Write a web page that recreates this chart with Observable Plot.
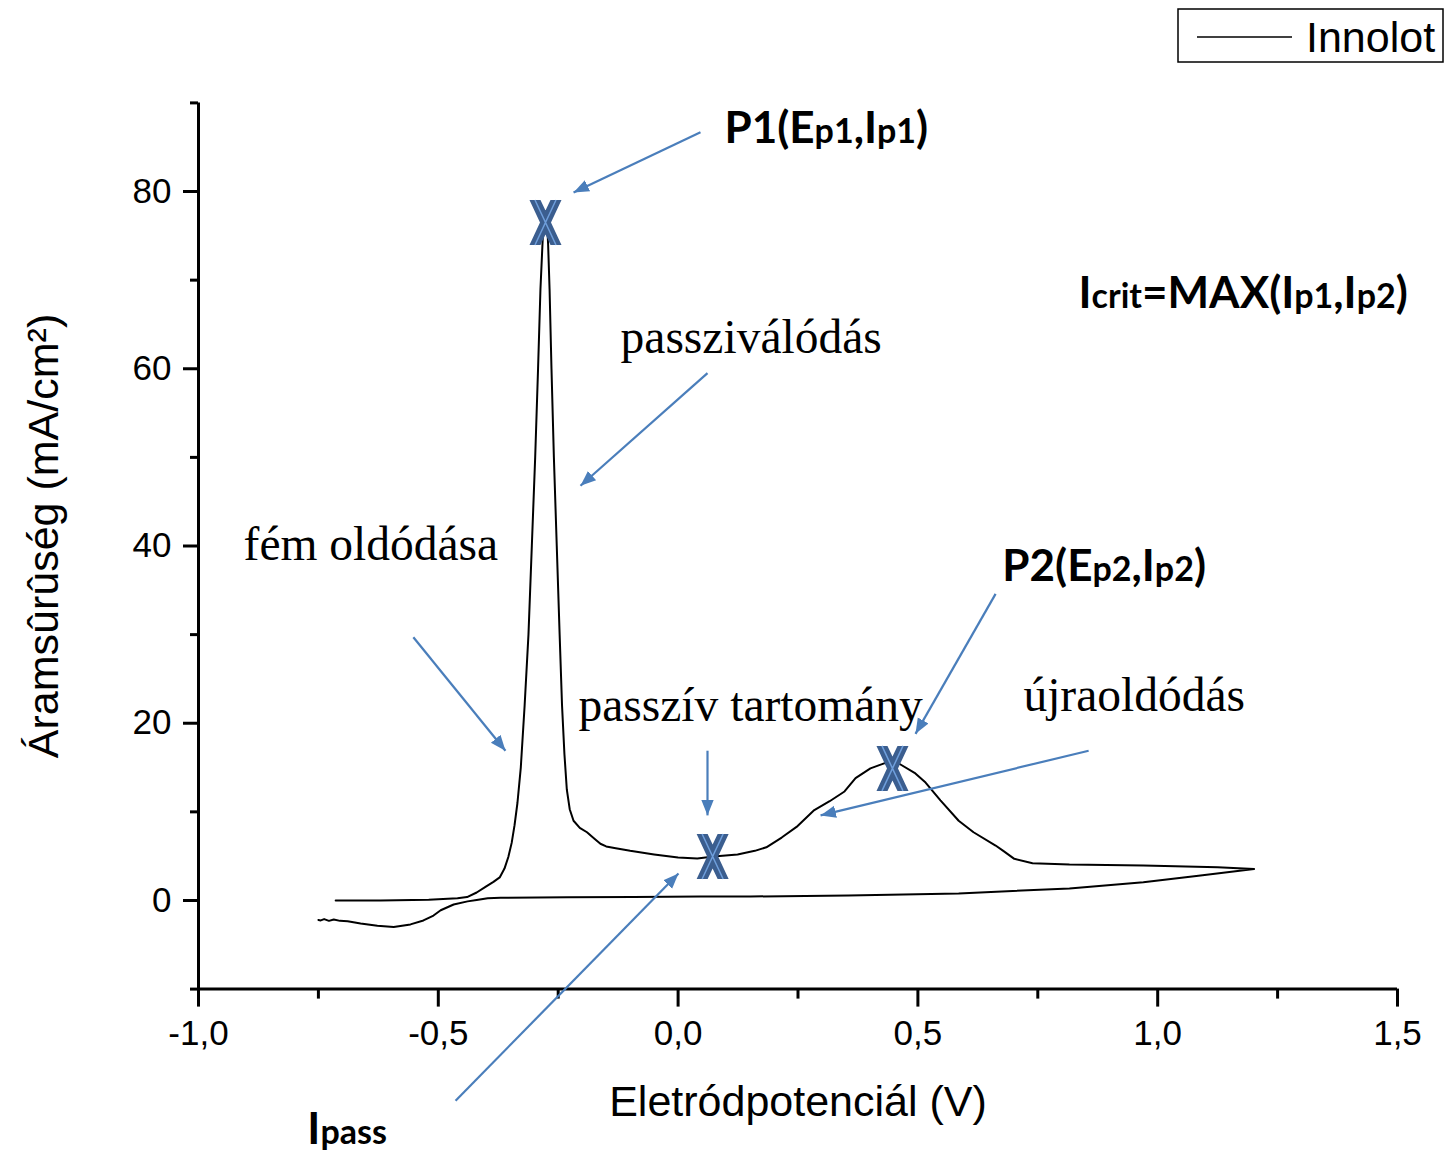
<!DOCTYPE html>
<html>
<head>
<meta charset="utf-8">
<script src="https://cdn.jsdelivr.net/npm/d3@7"></script>
<script src="https://cdn.jsdelivr.net/npm/@observablehq/plot@0.6"></script>
<style>
  html, body { margin: 0; padding: 0; background: #fff; overflow: hidden; }
  #wrap { position: relative; width: 1445px; height: 1153px; }
  #legend { position: absolute; left: 1177px; top: 8px; }
</style>
</head>
<body>
<div id="wrap">
  <div id="chart"></div>
  <svg id="legend" width="268" height="56">
    <rect x="1" y="1" width="265" height="53" fill="#fff" stroke="#000" stroke-width="1.5"></rect>
    <line x1="20" x2="115" y1="29" y2="29" stroke="#000" stroke-width="1.5"></line>
    <text x="129" y="44" font-family="'Liberation Sans', Arial, sans-serif" font-size="43" fill="#000">Innolot</text>
  </svg>
</div>
<script>
// ---- Data: cyclic polarisation scan (forward then reverse) ----
const scanE = [
  -0.714, -0.62, -0.52, -0.46, -0.44, -0.42, -0.40, -0.385, -0.372, -0.362,
  -0.354, -0.347, -0.341, -0.335, -0.328, -0.320, -0.312, -0.305, -0.298, -0.292,
  -0.287, -0.282, -0.278, -0.274, -0.271, -0.268, -0.264, -0.259, -0.253, -0.247,
  -0.242, -0.237, -0.232, -0.226, -0.218, -0.205, -0.190, -0.175, -0.162, -0.150,
  -0.130, -0.10, -0.05, 0.0, 0.04, 0.074, 0.124, 0.16, 0.184, 0.216,
  0.247, 0.284, 0.316, 0.347, 0.370, 0.401, 0.431, 0.462, 0.493, 0.516,
  0.547, 0.585, 0.616, 0.662, 0.678, 0.701, 0.739, 0.816, 0.970, 1.125,
  1.201,
  1.085, 0.970, 0.816, 0.585, 0.355, 0.151, 0.047, -0.093, -0.231, -0.370,
  -0.397, -0.420, -0.439, -0.468, -0.495, -0.510, -0.531, -0.558, -0.593, -0.627,
  -0.662, -0.689, -0.705, -0.718, -0.728, -0.738, -0.745, -0.750
];
const scanI = [
  0.0, 0.0, 0.08, 0.25, 0.38, 0.9, 1.6, 2.1, 2.6, 3.6,
  4.9, 6.5, 8.5, 11.0, 15.0, 22.0, 30.0, 40.0, 50.0, 60.0,
  69.0, 75.0, 77.8, 77.5, 74.0, 69.0, 60.0, 50.0, 40.0, 30.0,
  22.0, 16.5, 12.5, 10.3, 9.0, 8.2, 7.7, 7.0, 6.4, 6.1,
  5.9, 5.6, 5.2, 4.85, 4.75, 4.95, 5.2, 5.6, 6.0, 7.1,
  8.3, 10.2, 11.2, 12.3, 13.8, 14.9, 15.5, 15.4, 14.4, 13.3,
  11.3, 9.0, 7.7, 6.2, 5.6, 4.7, 4.2, 4.05, 3.95, 3.75,
  3.55,
  2.8, 2.05, 1.35, 0.8, 0.56, 0.45, 0.45, 0.38, 0.36, 0.3,
  0.25, 0.05, -0.1, -0.45, -1.1, -1.7, -2.25, -2.7, -3.0, -2.85,
  -2.6, -2.35, -2.3, -2.15, -2.3, -2.1, -2.25, -2.2
];

// Characteristic points (P1, Ipass, P2)
const markE = [-0.2765, 0.072, 0.447];
const markI = [76.5, 4.96, 14.9];

// Serif annotations
const noteText = ["passziválódás", "fém oldódása", "passzív tartomány", "újraoldódás"];
const noteE = [-0.120, -0.906, -0.2077, 0.720];
const noteI = [61.8, 38.4, 20.3, 21.4];

// Bold annotations ({...} = smaller part)
const boldText = ["P1(E{p1},I{p1})", "P2(E{p2},I{p2})", "I{crit}=MAX(I{p1},I{p2})", "I{pass}"];
const boldE = [0.0967, 0.676, 0.835, -0.773];
const boldI = [85.5, 36.1, 66.9, -27.5];

// Arrows (tail -> head)
const arrowE1 = [0.0467, 0.0613, -0.552, 0.0613, 0.662, 0.856, -0.464];
const arrowI1 = [86.7, 59.5, 29.7, 16.9, 34.6, 16.9, -22.6];
const arrowE2 = [-0.218, -0.2035, -0.360, 0.0613, 0.495, 0.297, 0.0008];
const arrowI2 = [79.9, 46.8, 16.9, 9.6, 18.8, 9.6, 3.05];

// Axis ticks
const xMajor = [-1.0, -0.5, 0.0, 0.5, 1.0, 1.5];
const xMinor = [-0.75, -0.25, 0.25, 0.75, 1.25];
const yMajor = [0, 20, 40, 60, 80];
const yMinor = [-10, 10, 30, 50, 70, 90];

const xLabel = "Eletródpotenciál (V)";
const yLabel = "Áramsûrûség (mA/cm²)";

// ---- Helpers ----
const scan = scanE.map((E, i) => ({E, I: scanI[i]}));
const marks = markE.map((E, i) => ({E, I: markI[i]}));
const notes = noteText.map((t, i) => ({t, E: noteE[i], I: noteI[i]}));
const bolds = boldText.map((t, i) => ({t, E: boldE[i], I: boldI[i]}));
const arrows = arrowE1.map((e, i) => ({x1: e, y1: arrowI1[i], x2: arrowE2[i], y2: arrowI2[i]}));

const xShape = {
  draw(ctx) {
    const w = 16, h = 22.5, c = 12, s = 5;
    ctx.moveTo(-w, -h); ctx.lineTo(-s, -h); ctx.lineTo(0, -c); ctx.lineTo(s, -h);
    ctx.lineTo(w, -h); ctx.lineTo(s + 0.5, 0); ctx.lineTo(w, h); ctx.lineTo(s, h);
    ctx.lineTo(0, c); ctx.lineTo(-s, h); ctx.lineTo(-w, h); ctx.lineTo(-s - 0.5, 0);
    ctx.closePath();
  }
};
const xInner = {
  draw(ctx) {
    ctx.moveTo(-10.5, -22.5); ctx.lineTo(10.5, 22.5);
    ctx.moveTo(10.5, -22.5); ctx.lineTo(-10.5, 22.5);
  }
};

function filledHead(color) {
  const ns = "http://www.w3.org/2000/svg";
  const m = document.createElementNS(ns, "marker");
  m.setAttribute("viewBox", "-8 -4 8 8");
  m.setAttribute("markerWidth", 7);
  m.setAttribute("markerHeight", 7);
  m.setAttribute("refX", 0);
  m.setAttribute("refY", 0);
  m.setAttribute("orient", "auto");
  const p = document.createElementNS(ns, "path");
  p.setAttribute("d", "M-8,-3.2L0,0L-8,3.2Z");
  p.setAttribute("fill", color);
  p.setAttribute("stroke", "none");
  m.appendChild(p);
  return m;
}

const fmtX = d => d.toFixed(1).replace(".", ",");
const sans = "'Liberation Sans', Arial, sans-serif";
const blue = "#4a7ebb";

const plot = Plot.plot({
  width: 1445,
  height: 1153,
  marginLeft: 198,
  marginRight: 48,
  marginTop: 102.4,
  marginBottom: 164.4,
  x: {domain: [-1, 1.5]},
  y: {domain: [-10, 90]},
  style: {fontFamily: sans, color: "#000", background: "#fff", overflow: "visible"},
  marks: [
    Plot.axisX({ticks: xMajor, tickSize: 18, tickPadding: 13, tickFormat: fmtX, fontSize: 35, strokeWidth: 3, label: null, fontFamily: sans}),
    Plot.axisX({ticks: xMinor, tickSize: 10, tickFormat: () => "", strokeWidth: 3, label: null}),
    Plot.axisY({ticks: yMajor, tickSize: 15, tickPadding: 12, tickFormat: d => String(d), fontSize: 35, strokeWidth: 3, label: null, fontFamily: sans}),
    Plot.axisY({ticks: yMinor, tickSize: 8, tickFormat: () => "", strokeWidth: 3, label: null}),
    Plot.ruleX([-1], {y1: -10, y2: 90, stroke: "#000", strokeWidth: 3}),
    Plot.ruleY([-10], {x1: -1, x2: 1.5, stroke: "#000", strokeWidth: 3}),
    Plot.line(scan, {x: "E", y: "I", stroke: "#000", strokeWidth: 2, strokeLinejoin: "round"}),
    Plot.dot(marks, {x: "E", y: "I", symbol: xShape, fill: "#3b5e8f", stroke: "none", r: 10}),
    Plot.dot(marks, {x: "E", y: "I", symbol: xInner, fill: "none", stroke: "#6f9fdc", strokeWidth: 1.5, r: 10}),
    Plot.link(arrows, {x1: "x1", y1: "y1", x2: "x2", y2: "y2", stroke: blue, strokeWidth: 2.2, markerEnd: filledHead}),
    Plot.text(notes, {x: "E", y: "I", text: "t", textAnchor: "start", lineAnchor: "bottom", fontFamily: "'Liberation Serif', 'Times New Roman', serif", fontSize: 47.5, fill: "#000"}),
    Plot.text(bolds, {x: "E", y: "I", text: "t", textAnchor: "start", lineAnchor: "bottom", fontFamily: "Lato, 'Open Sans', sans-serif", fontWeight: "bold", fontSize: 44, fill: "#000"}),
    Plot.text([xLabel], {frameAnchor: "bottom", dy: 126.4, lineAnchor: "bottom", fontSize: 43, fontFamily: sans, fill: "#000"}),
    Plot.text([yLabel], {frameAnchor: "left", rotate: -90, dx: -141, dy: -10, lineAnchor: "bottom", textAnchor: "middle", fontSize: 43, fontFamily: sans, fill: "#000"})
  ]
});

// Smaller sub-parts in bold labels
const ns = "http://www.w3.org/2000/svg";
plot.querySelectorAll("text").forEach(t => {
  const s = t.textContent;
  if (!s.includes("{")) return;
  t.textContent = "";
  s.split(/(\{[^}]*\})/).forEach(part => {
    if (!part) return;
    const ts = document.createElementNS(ns, "tspan");
    if (part.startsWith("{")) {
      ts.textContent = part.slice(1, -1);
      ts.setAttribute("font-size", 34);
    } else {
      ts.textContent = part;
    }
    t.appendChild(ts);
  });
});

document.getElementById("chart").appendChild(plot);
</script>
</body>
</html>
